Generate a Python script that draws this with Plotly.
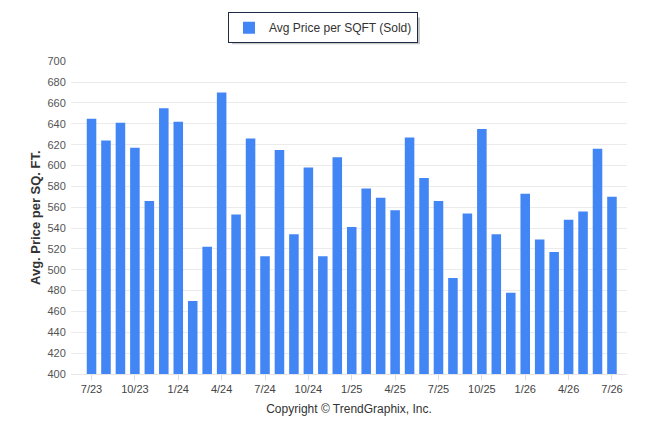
import plotly.graph_objects as go

months = ["7/23","8/23","9/23","10/23","11/23","12/23","1/24","2/24","3/24","4/24","5/24","6/24",
          "7/24","8/24","9/24","10/24","11/24","12/24","1/25","2/25","3/25","4/25","5/25","6/25",
          "7/25","8/25","9/25","10/25","11/25","12/25","1/26","2/26","3/26","4/26","5/26","6/26","7/26"]
avg_price_sqft = [645, 624, 641, 617, 566, 655, 642, 470, 522, 670, 553, 626,
                  513, 615, 534, 598, 513, 608, 541, 578, 569, 557, 627, 588,
                  566, 492, 554, 635, 534, 478, 573, 529, 517, 548, 556, 616, 570]
tick_labels = ["7/23","10/23","1/24","4/24","7/24","10/24","1/25","4/25","7/25","10/25","1/26","4/26","7/26"]

FONT = "Liberation Sans"
W, H = 646, 434
ML, MR, MT, MB = 71, 19, 60, 60

def px_to_paper_x(px):
    return (px - ML) / (W - ML - MR)

def px_to_paper_y(py):
    return (H - MB - py) / (H - MT - MB)

fig = go.Figure()
fig.add_trace(go.Bar(
    x=months, y=avg_price_sqft, name="Avg Price per SQFT (Sold)",
    marker=dict(color="#4285F4", line=dict(width=0)), width=0.66,
    showlegend=True,
))

# soft legend drop shadow
fig.add_shape(
    type="rect", xref="paper", yref="paper",
    x0=px_to_paper_x(232), x1=px_to_paper_x(420),
    y0=px_to_paper_y(43), y1=px_to_paper_y(16),
    fillcolor="rgba(0,0,0,0.22)", line=dict(width=0), layer="above",
)

fig.update_layout(
    width=W, height=H,
    margin=dict(l=ML, r=MR, t=MT, b=MB),
    paper_bgcolor="white", plot_bgcolor="white",
    font=dict(family=FONT, color="#444", size=11),
    showlegend=True,
    legend=dict(
        orientation="h", xref="container", yref="container",
        x=0.5, xanchor="center", y=0.972, yanchor="top",
        bordercolor="#1f2a44", borderwidth=1, bgcolor="white",
        font=dict(family=FONT, size=12, color="#333"),
    ),
    xaxis=dict(
        type="category", categoryorder="array", categoryarray=months,
        tickmode="array", tickvals=tick_labels, ticktext=tick_labels,
        range=[-1.42, 37.04],
        showgrid=False, showline=True, linecolor="#e6e6e6", linewidth=1,
        ticks="outside", ticklen=5, tickcolor="#dcdcdc",
        tickfont=dict(family=FONT, size=11, color="#444"),
        title=dict(text="Copyright © TrendGraphix, Inc.", standoff=10,
                   font=dict(family=FONT, size=12, color="#333")),
    ),
    yaxis=dict(
        range=[400, 700], dtick=20, tick0=400,
        showgrid=True, gridcolor="#ebebeb", gridwidth=1,
        zeroline=False, showline=False,
        ticks="outside", ticklen=2, tickcolor="white",
        tickfont=dict(family=FONT, size=11, color="#555"),
        title=dict(text="<b>Avg. Price per SQ. FT.</b>", standoff=3,
                   font=dict(family=FONT, size=13, color="#333")),
    ),
    bargap=0.34,
)

fig.write_html("out.html", config={"displayModeBar": False},
               post_script="document.body.style.margin='0';")
